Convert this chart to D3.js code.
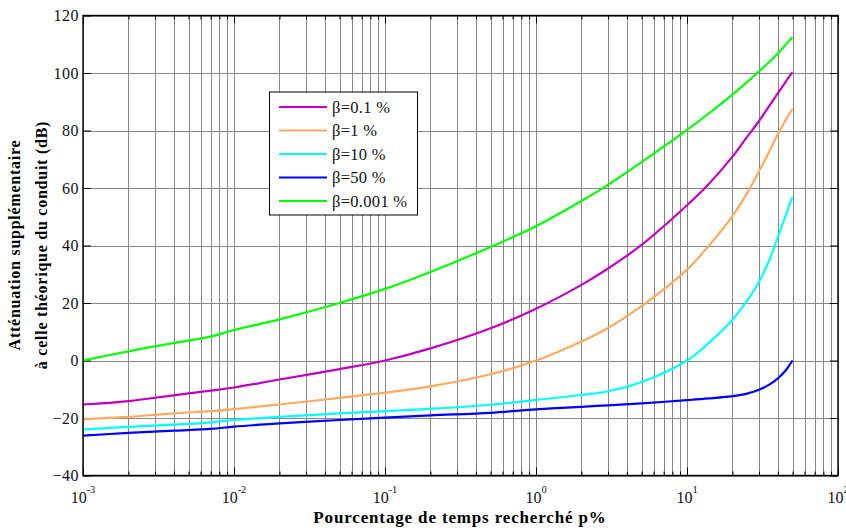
<!DOCTYPE html>
<html><head><meta charset="utf-8">
<script src="https://cdn.jsdelivr.net/npm/d3@7"></script>
<style>body{margin:0;background:#fff}svg{display:block}text{font-family:"Liberation Serif","Times New Roman",serif}</style>
</head><body><svg id="c" width="846" height="530"></svg>
<script>
const pValues = [0.001,0.002,0.004,0.007,0.01,0.02,0.05,0.1,0.2,0.5,1,2,3,5,10,14,20,25,30,35,40,45,47,50];
const beta01  = [-15.3,-14.1,-12.1,-10.5,-9.4,-6.6,-3.0,0,4.2,11.2,18.0,26.3,32.0,40.2,54.0,61.5,70.9,77.8,83.3,88.5,93.0,96.9,98.4,100.2];
const beta1   = [-20.5,-19.6,-18.4,-17.6,-16.9,-15.3,-13.0,-11.2,-9.0,-4.8,0,6.6,11.3,18.9,31.6,40.0,50.2,58.2,65.8,72.6,78.8,83.6,85.4,87.4];
const beta10  = [-24,-23.1,-22.3,-21.5,-20.7,-19.6,-18.4,-17.6,-16.8,-15.4,-13.7,-12.0,-10.7,-7.5,0,6.2,14.2,20.8,27.4,34.8,43.0,50.4,53.3,56.9];
const beta50  = [-26.1,-25.2,-24.4,-23.8,-23.0,-21.9,-20.7,-19.9,-19.1,-18.2,-17.0,-16.1,-15.6,-14.9,-13.8,-13.2,-12.4,-11.5,-10.2,-8.4,-6.2,-3.5,-2.1,0];
const beta0001= [0,3.2,6.1,8.3,10.6,14.3,20.0,24.9,30.8,39.5,46.7,55.5,61.1,69.0,80.2,86.0,92.5,96.8,100.6,103.8,106.8,109.8,111.0,112.5];
const seriesNames = ["β=0.1 %","β=1 %","β=10 %","β=50 %","β=0.001 %"];
const seriesColors = ["#bf00bf","#ffaa60","#00ffff","#0000ff","#00ff00"];
const seriesData = [beta01,beta1,beta10,beta50,beta0001];
const yTicks = [-40,-20,0,20,40,60,80,100,120];
const xMajor = [-3,-2,-1,0,1,2];

const svg = d3.select("#c");
const L=83,R=838,T=15.5,B=475.5;
const x = d3.scaleLog().domain([1e-3,1e2]).range([L,R]);
const y = d3.scaleLinear().domain([-40,120]).range([B,T]);

const minor=[];
for(let e=-3;e<2;e++) for(let m=2;m<=9;m++) minor.push(m*Math.pow(10,e));
const major = xMajor.map(e=>Math.pow(10,e));

const g = svg.append("g");
g.selectAll(".vg").data(minor.concat(major)).join("line")
 .attr("x1",d=>Math.round(x(d))+0.5).attr("x2",d=>Math.round(x(d))+0.5).attr("y1",T).attr("y2",B)
 .attr("stroke","#888").attr("stroke-width",1);
g.selectAll(".hg").data(yTicks).join("line")
 .attr("y1",d=>Math.round(y(d))+0.5).attr("y2",d=>Math.round(y(d))+0.5).attr("x1",L).attr("x2",R)
 .attr("stroke","#888").attr("stroke-width",1);

const axB = d3.axisBottom(x).tickValues(major).tickSizeInner(-8).tickSizeOuter(0).tickFormat("");
const axBm = d3.axisBottom(x).tickValues(minor).tickSizeInner(-4).tickSizeOuter(0).tickFormat("");
const axT = d3.axisTop(x).tickValues(major).tickSizeInner(-8).tickSizeOuter(0).tickFormat("");
const axTm = d3.axisTop(x).tickValues(minor).tickSizeInner(-4).tickSizeOuter(0).tickFormat("");
const axL = d3.axisLeft(y).tickValues(yTicks).tickSizeInner(-8).tickSizeOuter(0).tickPadding(4);
const axR = d3.axisRight(y).tickValues(yTicks).tickSizeInner(-8).tickSizeOuter(0).tickFormat("");
[[axB,`translate(0,${B})`],[axBm,`translate(0,${B})`],[axT,`translate(0,${T})`],[axTm,`translate(0,${T})`],[axL,`translate(${L},0)`],[axR,`translate(${R},0)`]]
 .forEach(([a,t])=>{
   const s=svg.append("g").attr("transform",t).call(a);
   s.select(".domain").remove();
   s.selectAll("line").attr("stroke","#000");
   s.selectAll("text").attr("font-size",16).attr("fill","#111").attr("font-family","Liberation Serif").attr("letter-spacing",0.5);
 });

const xl = svg.append("g");
major.forEach((v,i)=>{
  const t = xl.append("text").attr("x",x(v)).attr("y",503).attr("text-anchor","middle")
   .attr("font-size",16).attr("fill","#111");
  t.append("tspan").text("10");
  t.append("tspan").attr("dy",-10).attr("font-size",10.5).text(String(xMajor[i]));
});

const line = d3.line().x((d,i)=>x(pValues[i])).y(d=>y(d)).curve(d3.curveCatmullRom.alpha(0.5));
seriesData.forEach((s,k)=>{
  svg.append("path").attr("d",line(s)).attr("fill","none").attr("stroke",seriesColors[k]).attr("stroke-width",2.2);
});

svg.append("rect").attr("x",L).attr("y",T).attr("width",R-L).attr("height",B-T)
 .attr("fill","none").attr("stroke","#000").attr("stroke-width",1.4);

const lg = svg.append("g");
lg.append("rect").attr("x",269.5).attr("y",92).attr("width",148).attr("height",123)
 .attr("fill","#fff").attr("stroke","#000").attr("stroke-width",1);
seriesNames.forEach((n,k)=>{
  const yy = 107 + k*23.5;
  lg.append("line").attr("x1",279).attr("x2",327).attr("y1",yy).attr("y2",yy)
   .attr("stroke",seriesColors[k]).attr("stroke-width",2.2);
  lg.append("text").attr("x",332).attr("y",yy+5.5).attr("font-size",16.5).attr("fill","#111").attr("letter-spacing",0.3).text(n);
});

svg.append("text").attr("x",460).attr("y",523).attr("text-anchor","middle")
 .attr("font-size",17).attr("font-weight","bold").attr("letter-spacing",0.85).text("Pourcentage de temps recherché p%");
const yt = svg.append("text").attr("transform","translate(20,245) rotate(-90)").attr("text-anchor","middle")
 .attr("font-size",16).attr("font-weight","bold").attr("letter-spacing",0.75);
yt.append("tspan").attr("x",0).attr("dy",0).text("Atténuation supplémentaire");
yt.append("tspan").attr("x",0).attr("dy",27).text("à celle théorique du conduit (dB)");
</script></body></html>
